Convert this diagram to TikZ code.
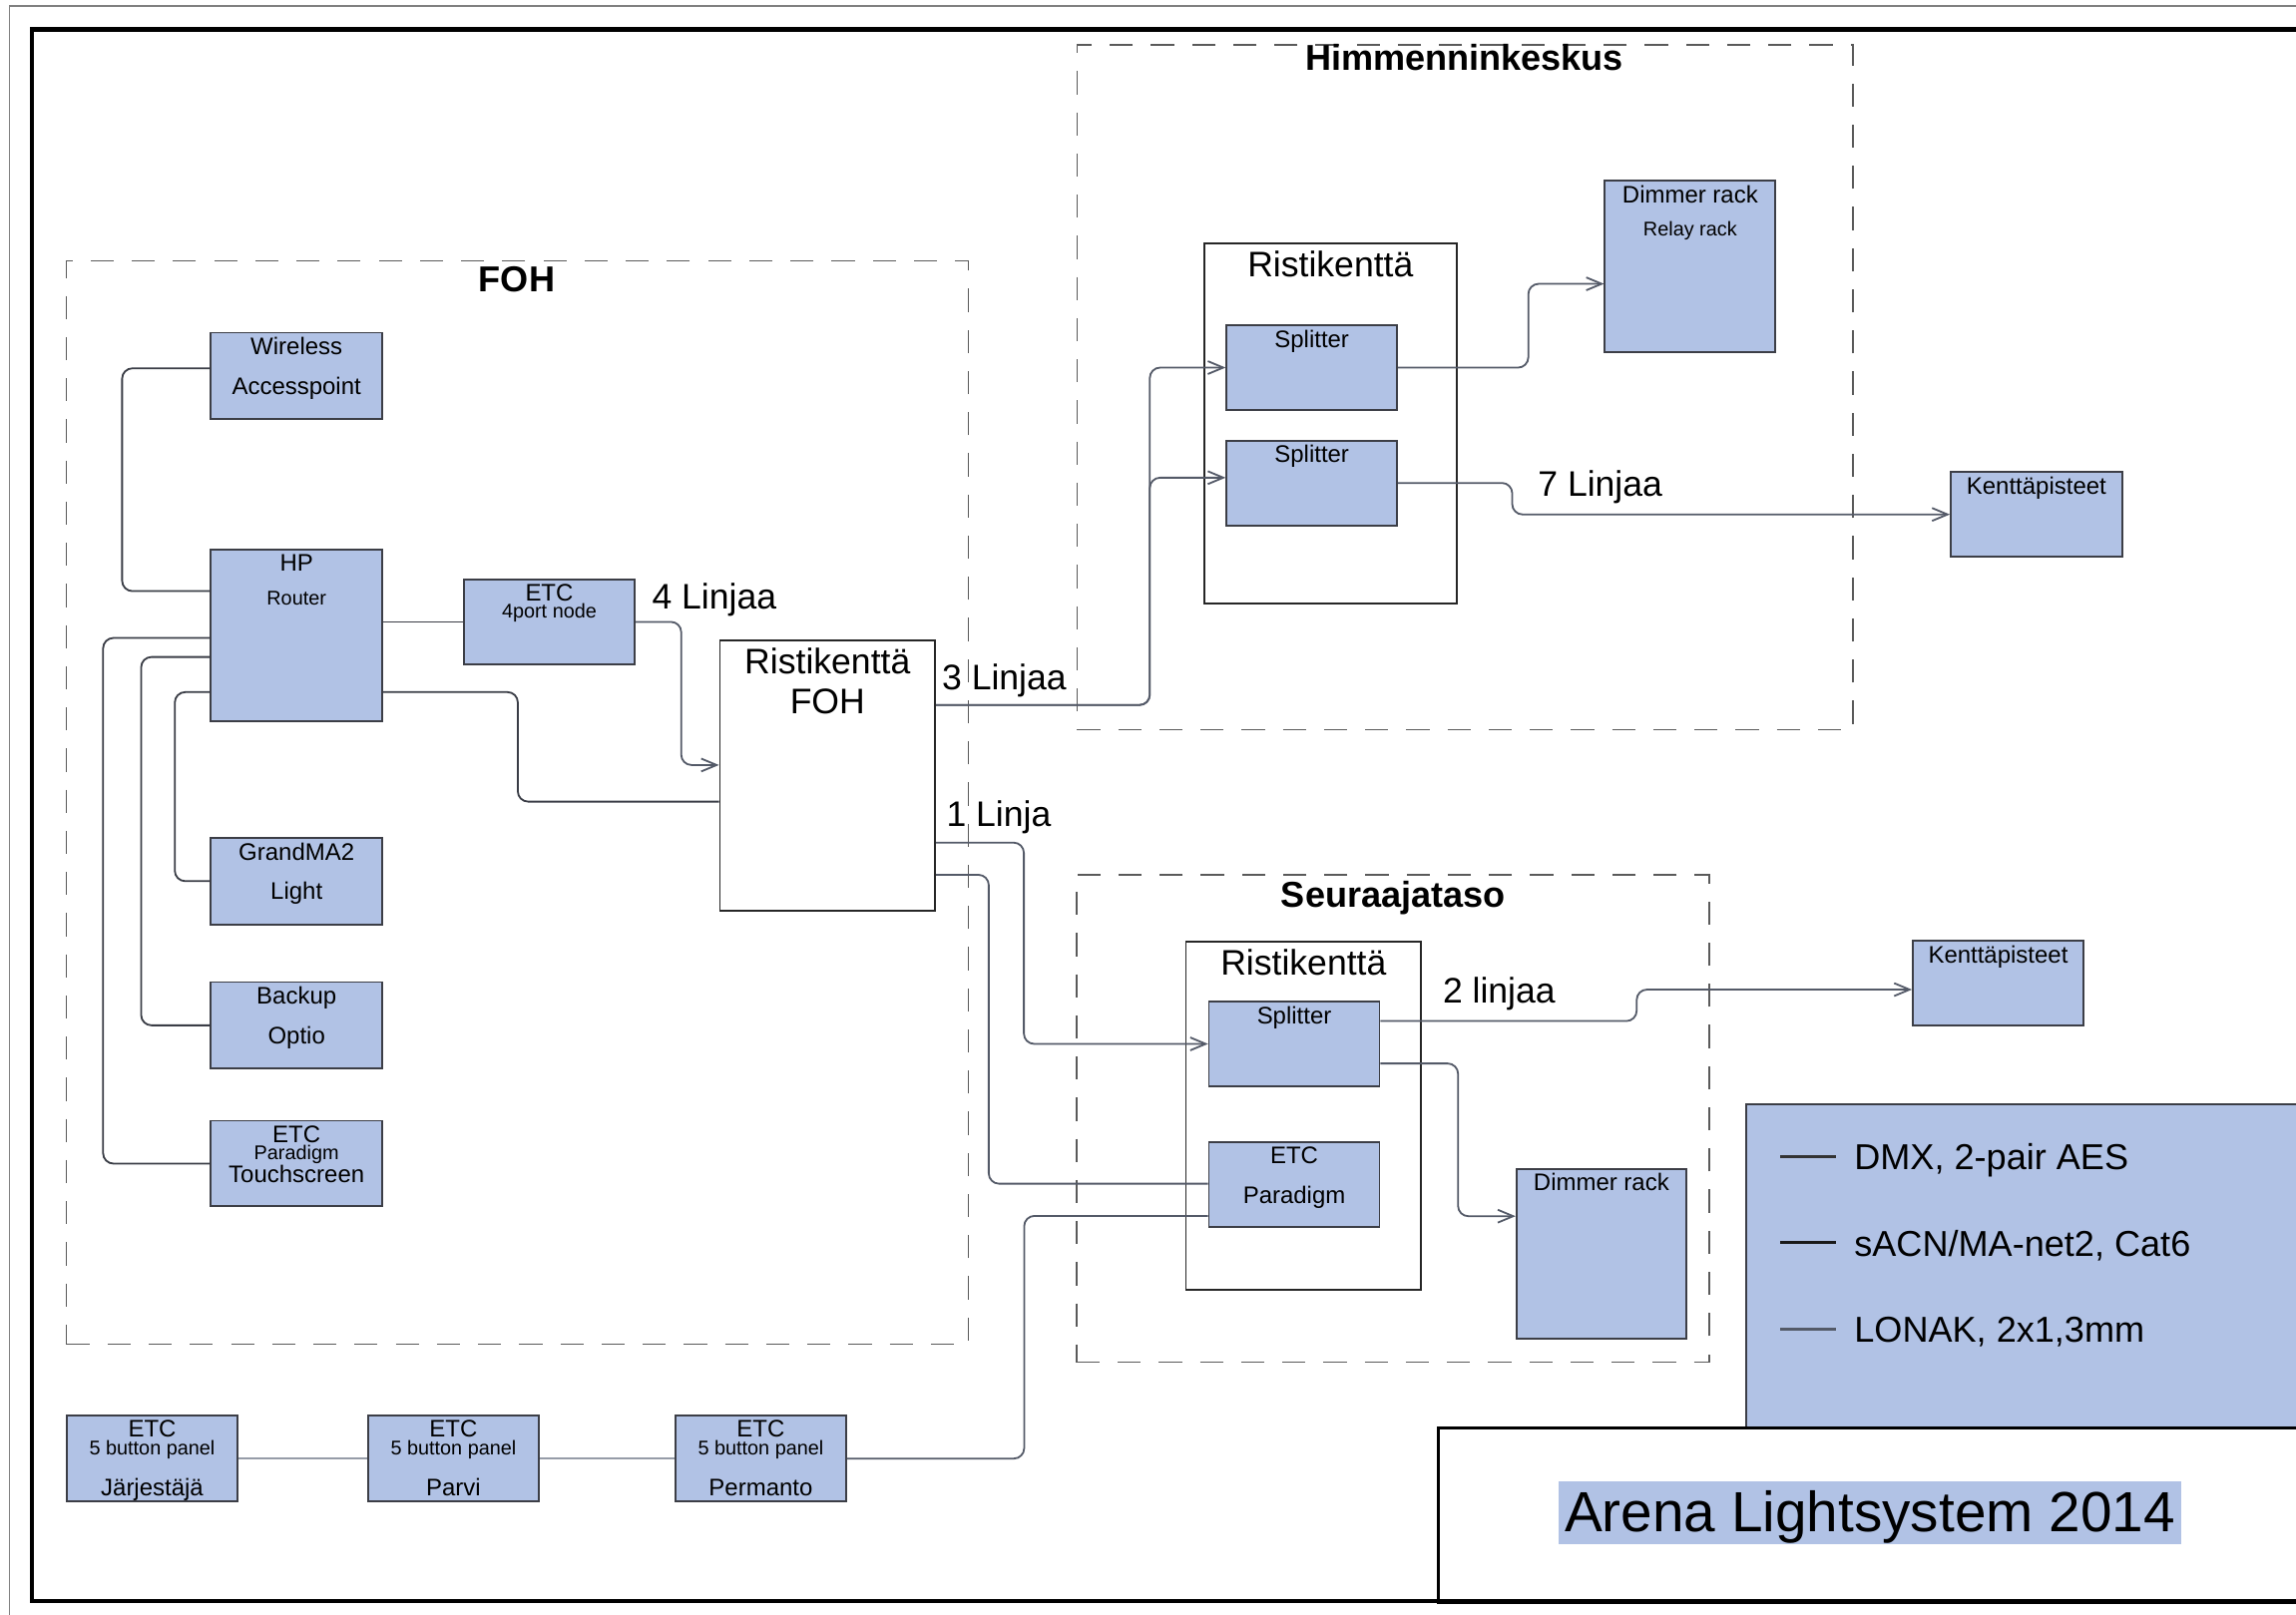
\documentclass[tikz,border=0pt]{standalone}
\usepackage{fontspec}
\setmainfont{Liberation Sans}
\usepackage{xcolor}
\usepackage{tikz}
\usetikzlibrary{calc}
\usetikzlibrary{arrows.meta}
\pgfdeclarelayer{nodelayer}
\pgfdeclarelayer{edgelayer}
\pgfsetlayers{nodelayer,edgelayer,main}
\definecolor{boxblue}{RGB}{177,194,229}
\definecolor{boxline}{RGB}{60,62,70}
\definecolor{dmxgrey}{RGB}{84,90,104}
\definecolor{langrey}{RGB}{58,61,70}
\definecolor{lonakgrey}{RGB}{150,156,168}
\definecolor{dashgrey}{RGB}{90,90,90}
\newcommand\fntbox{\fontsize{9.3pt}{15.4pt}\selectfont}
\newcommand\fntsmall{\fontsize{7.7pt}{9pt}\selectfont}
\newcommand\fntbig{\fontsize{13.8pt}{16.6pt}\selectfont}
\newcommand\fnthead{\fontsize{14pt}{17pt}\selectfont\bfseries}
\newcommand\fntkey{\fontsize{14pt}{17pt}\selectfont}
\newcommand\fnttitle{\fontsize{22pt}{26pt}\selectfont}
\tikzset{
    wh/.style 2 args = {minimum width=#1*0.02cm, minimum height=#2*0.02cm},
    unitbox/.style = {rectangle, draw=boxline, fill=boxblue, line width=0.7pt, inner sep=0pt, anchor=north west},
    patchbox/.style = {rectangle, draw=black!85, fill=white, line width=0.7pt, inner sep=0pt, anchor=north west},
    legendbox/.style = {rectangle, draw=boxline, fill=boxblue, line width=0.7pt, inner sep=0pt, anchor=north west},
    titlebox/.style = {rectangle, draw=black, fill=white, line width=1.2pt, inner sep=0pt, anchor=north west},
    zone/.style = {rectangle, draw=dashgrey, line width=0.6pt, dash pattern=on 9pt off 7pt, inner sep=0pt, anchor=north west},
    intxt/.style = {anchor=north, align=center, inner sep=2pt, font=\fntbox},
    zonehead/.style = {anchor=base, inner sep=0pt, font=\fnthead},
    linjat/.style = {anchor=base west, inner sep=0pt, font=\fntbig},
    keytxt/.style = {anchor=base west, inner sep=0pt, font=\fntkey},
    keyline/.style = {line width=1.2pt},
    titletxt/.style = {fill=boxblue, inner xsep=2.5pt, inner ysep=1pt, text height=18.5pt, text depth=4pt, font=\fnttitle},
    wire/.style = {line width=0.7pt, rounded corners=4pt},
    lan/.style = {wire, draw=langrey},
    dmx/.style = {wire, draw=dmxgrey},
    lonak/.style = {wire, draw=lonakgrey},
    sig/.style = {-{Straight Barb[length=6pt,width=5pt]}}
}
\begin{document}
\begin{tikzpicture}[x=0.02cm, y=-0.02cm]
    \useasboundingbox (0,0) rectangle (1568,1103);
    \begin{pgfonlayer}{nodelayer}
        % areas
        \node [zone, wh={616}{740}] (foh) at (44.8,177.7) {};
        \node [zone, wh={530}{468}] (himm) at (735,30) {};
        \node [zone, wh={432}{333}] (seur) at (734.7,597) {};
        \node [zonehead] (fohT) at (353,199.5) {FOH};
        \node [zonehead] (himmT) at (1000,48.3) {Himmenninkeskus};
        \node [zonehead] (seurT) at (951.5,620) {Seuraajataso};

        % FOH
        \node [unitbox, wh={117}{59}, label={[intxt]north:Wireless\\Accesspoint}] (wap) at (143.4,226.6) {};
        \node [unitbox, wh={117}{117}, label={[intxt]north:HP\\[-2pt]{\fntsmall Router}}] (router) at (143.4,374.8) {};
        \node [unitbox, wh={117}{58}, label={[intxt]north:ETC\\[-8.6pt]{\fntsmall 4port node}}] (node4) at (316,395.2) {};
        \node [patchbox, wh={147}{185}, label={[intxt, font=\fntbig, inner sep=3.4pt]north:Ristikenttä\\[-1.2pt]FOH}] (ristfoh) at (491,436.6) {};
        \node [unitbox, wh={117}{59}, label={[intxt]north:GrandMA2\\Light}] (gma) at (143.4,571.8) {};
        \node [unitbox, wh={117}{59}, label={[intxt]north:Backup\\Optio}] (backup) at (143.4,670.3) {};
        \node [unitbox, wh={117}{58.5}, label={[intxt]north:ETC\\[-8.6pt]{\fntsmall Paradigm}\\[-6.4pt]Touchscreen}] (touch) at (143.4,765) {};

        % button panels
        \node [unitbox, wh={117}{58.5}, label={[intxt]north:ETC\\[-8.6pt]{\fntsmall 5 button panel}\\[0.7pt]Järjestäjä}] (pjar) at (44.8,966.5) {};
        \node [unitbox, wh={116.5}{58.5}, label={[intxt]north:ETC\\[-8.6pt]{\fntsmall 5 button panel}\\[0.7pt]Parvi}] (pparvi) at (250.8,966.5) {};
        \node [unitbox, wh={116.5}{58.5}, label={[intxt]north:ETC\\[-8.6pt]{\fntsmall 5 button panel}\\[0.7pt]Permanto}] (pperm) at (460.7,966.5) {};

        % Himmenninkeskus
        \node [patchbox, wh={172.5}{246}, label={[intxt, font=\fntbig, inner sep=3.2pt]north:Ristikenttä}] (risthim) at (821.7,165.6) {};
        \node [unitbox, wh={116.5}{58}, label={[intxt]north:Splitter}] (splA) at (837,221.5) {};
        \node [unitbox, wh={116.5}{58}, label={[intxt]north:Splitter}] (splB) at (837,300.3) {};
        \node [unitbox, wh={116.5}{117}, label={[intxt]north:Dimmer rack\\[-2.4pt]{\fntsmall Relay rack}}] (relay) at (1095.4,122.9) {};
        \node [unitbox, wh={117}{58}, label={[intxt]north:Kenttäpisteet}] (kentA) at (1331.6,321.8) {};

        % Seuraajataso
        \node [patchbox, wh={160.5}{238}, label={[intxt, font=\fntbig, inner sep=3.2pt]north:Ristikenttä}] (ristseu) at (809.3,642.6) {};
        \node [unitbox, wh={116.5}{58}, label={[intxt]north:Splitter}] (splC) at (825,683.5) {};
        \node [unitbox, wh={116.5}{58}, label={[intxt]north:ETC\\Paradigm}] (paradigm) at (825,779.6) {};
        \node [unitbox, wh={116}{116}, label={[intxt]north:Dimmer rack}] (dimC) at (1035,797.8) {};
        \node [unitbox, wh={116.5}{58}, label={[intxt]north:Kenttäpisteet}] (kentB) at (1305.7,642) {};

        % line counts
        \node [linjat] (l4) at (445,416) {4 Linjaa};
        \node [linjat] (l3) at (643,471) {3 Linjaa};
        \node [linjat] (l7) at (1050,339) {7 Linjaa};
        \node [linjat] (l1) at (646,564.5) {1 Linja};
        \node [linjat] (l2) at (985,685) {2 linjaa};

        % legend and title
        \node [legendbox, wh={420}{221}] (legend) at (1192,753.5) {};
        \node [keytxt] (keyA) at (1266,799) {DMX, 2-pair AES};
        \node [keytxt] (keyB) at (1266,858) {sACN/MA-net2, Cat6};
        \node [keytxt] (keyC) at (1266,917) {LONAK, 2x1,3mm};
        \node [titlebox, wh={620}{119}] (titlebox) at (981,974.5) {};
        \node [titletxt] (title) at (1277,1033.6) {Arena Lightsystem 2014};
    \end{pgfonlayer}
    \begin{pgfonlayer}{edgelayer}
        % network
        \draw [lan] ($(wap.north west)+(0,25)$) -- ++(-60,0) |- ($(router.north west)+(0,29)$);
        \draw [lan] ($(router.north west)+(0,61)$) -- ++(-73,0) |- (touch.west);
        \draw [lan] ($(router.north west)+(0,74)$) -- ++(-47,0) |- (backup.west);
        \draw [lan] ($(router.north west)+(0,98)$) -- ++(-24,0) |- (gma.west);
        \draw [lan] (router.east |- node4.west) -- (node4.west);
        \draw [lan] ($(router.north east)+(0,98)$) -- ++(92,0) |- ($(ristfoh.north west)+(0,111)$);

        % dmx
        \draw [dmx, sig] (node4.east) -- ++(31,0) |- ($(ristfoh.north west)+(0,86)$);
        \draw [dmx, sig] ($(ristfoh.north east)+(0,45)$) -- ++(146,0) |- (splA.west);
        \draw [dmx, sig] ($(ristfoh.north east)+(0,45)$) -- ++(146,0) |- ($(splB.north west)+(0,26)$);
        \draw [dmx, sig] (splA.east) -- ++(89,0) |- ($(relay.north west)+(0,71)$);
        \draw [dmx, sig] (splB.east) -- ++(78,0) |- (kentA.west);
        \draw [dmx, sig] ($(ristfoh.north east)+(0,139)$) -- ++(60,0) |- (splC.west);
        \draw [dmx] ($(ristfoh.north east)+(0,161)$) -- ++(36,0) |- ($(paradigm.north west)+(0,29)$);
        \draw [dmx, sig] ($(splC.north east)+(0,14)$) -- ++(175,0) |- ($(kentB.north west)+(0,34)$);
        \draw [dmx, sig] ($(splC.north east)+(0,43)$) -- ++(53,0) |- ($(dimC.north west)+(0,33)$);

        % lonak
        \draw [lonak] (pjar.east) -- (pparvi.west);
        \draw [lonak] (pparvi.east) -- (pperm.west);
        \draw [dmx] (pperm.east) -- ++(121,0) |- ($(paradigm.north west)+(0,51)$);

        % legend keys
        \draw [keyline, draw=black!80] ($(keyA.base west)+(-50,-9)$) -- ++(38,0);
        \draw [keyline, draw=black!90] ($(keyB.base west)+(-50,-9)$) -- ++(38,0);
        \draw [keyline, draw=dmxgrey] ($(keyC.base west)+(-50,-9)$) -- ++(38,0);
    \end{pgfonlayer}
    % sheet frame
    \draw [draw=gray, line width=0.6pt] (6.5,1110) -- (6.5,4) -- (1600,4);
    \draw [line width=1.7pt] (1600,20) -- (22,20) -- (22,1093.5) -- (1600,1093.5);
\end{tikzpicture}
\end{document}
